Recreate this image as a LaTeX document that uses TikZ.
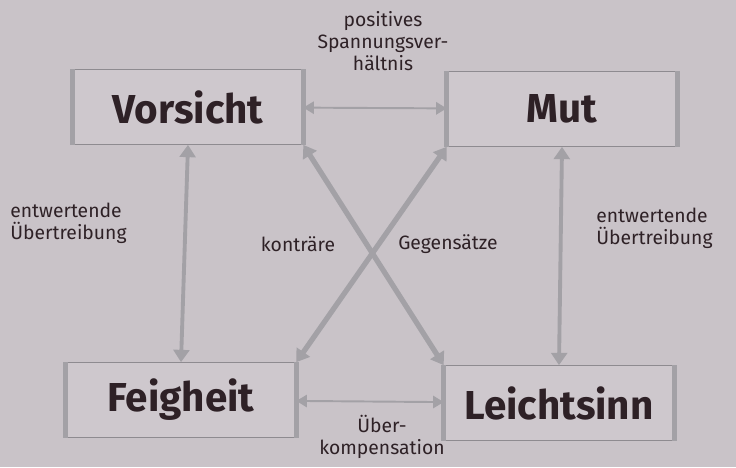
\documentclass[tikz,border=0pt]{standalone}
\usepackage{fontspec}
\setmainfont{Fira Sans}
\usepackage{tikz}
\usetikzlibrary{arrows.meta, positioning}
\definecolor{paper}{HTML}{C9C3C8}
\definecolor{boxfill}{HTML}{CEC8CD}
\definecolor{marker}{HTML}{A3A1A6}
\definecolor{pencil}{HTML}{8E8B90}
\definecolor{ink}{HTML}{2E2126}
\tikzset{
	valuenode/.style={
			rectangle,
			draw=pencil,
			thin,
			fill=boxfill,
			minimum width=4.6cm,
			minimum height=1.5cm,
			inner sep=0pt,
			text=ink,
			font=\fontsize{23}{25}\selectfont\bfseries
		},
	sideedge/.style={
			draw=marker,
			line width=2.6pt
		},
	notenode/.style={
			text=ink,
			inner sep=0pt,
			font=\fontsize{11}{12.5}\selectfont
		},
	pairarrow/.style={
			draw=marker,
			line width=1.1pt,
			{Triangle[length=6pt,width=7pt]}-{Triangle[length=6pt,width=7pt]}
		},
	sidearrow/.style={
			draw=marker,
			line width=2.2pt,
			{Triangle[length=7pt,width=9pt]}-{Triangle[length=7pt,width=9pt]}
		},
	crossarrow/.style={
			draw=marker,
			line width=3pt,
			{Triangle[length=7pt,width=9pt]}-{Triangle[length=7pt,width=9pt]}
		}
}

\begin{document}
\begin{tikzpicture}[x=0.02cm, y=-0.02cm]
\fill[paper] (0,0) rectangle (736,467);
\useasboundingbox (0,0) rectangle (736,467);

\node[valuenode] (vorsicht) at (188,107)  { Vorsicht };
\node[valuenode] (mut) at (562,109)  { Mut };
\node[valuenode] (feigheit) at (181,400)  { Feigheit };
\node[valuenode] (leicht) at (559,403)  { Leichtsinn };

\foreach \n in {vorsicht, mut, feigheit, leicht} {
	\draw[sideedge] (\n.north west) -- (\n.south west);
	\draw[sideedge] (\n.north east) -- (\n.south east);
}

\draw[pairarrow] (vorsicht) -- (mut);
\draw[pairarrow] (feigheit) -- (leicht);

\draw[sidearrow] (vorsicht.south) -- (feigheit.north);
\draw[sidearrow] (mut.south) -- (leicht.north);

\draw[crossarrow] (vorsicht.south east) -- (leicht.north west);
\draw[crossarrow] (mut.south west) -- (feigheit.north east);

\node[notenode, align=center] (spannung) at (383,41)  { positives\\Spannungsver-\\hältnis };
\node[notenode, align=left, anchor=west] (wertl) at (10,223)  { entwertende\\Übertreibung };
\node[notenode, align=left, anchor=west] (wertr) at (596,228)  { entwertende\\Übertreibung };
\node[notenode] (kontr) at (298,244)  { konträre };
\node[notenode] (gegen) at (448,244)  { Gegensätze };
\node[notenode, align=center] (kompens) at (382,437)  { Über-\\kompensation };
\end{tikzpicture}
\end{document}
